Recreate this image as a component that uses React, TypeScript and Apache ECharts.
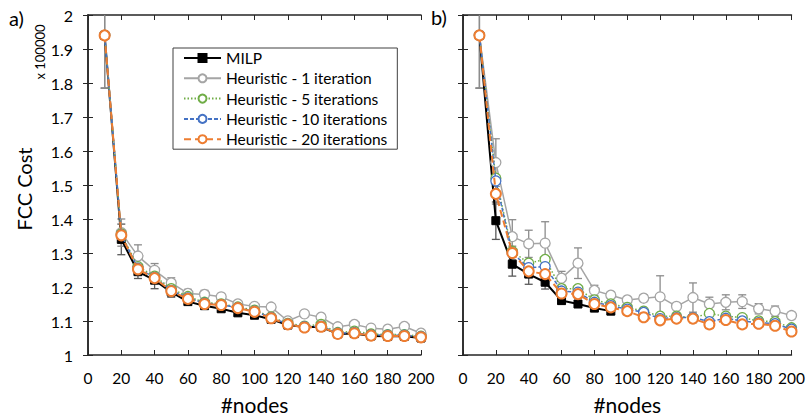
import React, { useEffect, useRef } from "react";
import * as echarts from "echarts";

const NODES = [10, 20, 30, 40, 50, 60, 70, 80, 90, 100, 110, 120, 130, 140, 150, 160, 170, 180, 190, 200];
const NODES_MILP_B = [10, 20, 30, 40, 50, 60, 70, 80, 90];
const Y_TICKS = [1, 1.1, 1.2, 1.3, 1.4, 1.5, 1.6, 1.7, 1.8, 1.9, 2];

// Panel a)
const milpA = [1.94, 1.34, 1.245, 1.22, 1.185, 1.157, 1.145, 1.136, 1.124, 1.117, 1.105, 1.088, 1.082, 1.082, 1.062, 1.063, 1.056, 1.055, 1.055, 1.05];
const h1A = [1.94, 1.36, 1.291, 1.249, 1.212, 1.181, 1.178, 1.171, 1.15, 1.143, 1.141, 1.1, 1.121, 1.111, 1.083, 1.09, 1.079, 1.076, 1.084, 1.064];
const h5A = [1.94, 1.356, 1.26, 1.232, 1.195, 1.172, 1.155, 1.15, 1.141, 1.132, 1.112, 1.093, 1.085, 1.09, 1.066, 1.07, 1.062, 1.06, 1.06, 1.055];
const h10A = [1.94, 1.353, 1.255, 1.228, 1.19, 1.168, 1.152, 1.148, 1.139, 1.129, 1.11, 1.091, 1.083, 1.085, 1.064, 1.066, 1.059, 1.058, 1.058, 1.054];
const h20A = [1.94, 1.352, 1.252, 1.226, 1.188, 1.165, 1.15, 1.147, 1.138, 1.127, 1.108, 1.09, 1.081, 1.083, 1.062, 1.064, 1.057, 1.056, 1.056, 1.052];
const milpErrA = [0.155, 0.045, 0.02, 0.025, 0.015, 0.008, 0.008, 0.008, 0.008, 0.006, 0.006, 0.006, 0.005, 0.005, 0.005, 0.005, 0.005, 0.005, 0.005, 0.005];
const h1ErrA = [0.155, 0.04, 0.033, 0.02, 0.015, 0.012, 0.012, 0.01, 0.01, 0.008, 0.008, 0.007, 0.008, 0.006, 0.006, 0.006, 0.006, 0.006, 0.006, 0.006];

// Panel b)
const milpB = [1.94, 1.395, 1.267, 1.238, 1.214, 1.16, 1.15, 1.138, 1.129];
const h1B = [1.94, 1.566, 1.348, 1.327, 1.329, 1.226, 1.27, 1.19, 1.176, 1.162, 1.167, 1.171, 1.143, 1.169, 1.15, 1.155, 1.157, 1.136, 1.129, 1.116];
const h5B = [1.94, 1.52, 1.305, 1.27, 1.281, 1.195, 1.195, 1.162, 1.15, 1.14, 1.129, 1.114, 1.114, 1.11, 1.122, 1.114, 1.11, 1.1, 1.098, 1.08];
const h10B = [1.94, 1.512, 1.3, 1.257, 1.26, 1.188, 1.185, 1.155, 1.145, 1.135, 1.125, 1.107, 1.11, 1.11, 1.098, 1.108, 1.1, 1.095, 1.092, 1.076];
const h20B = [1.94, 1.474, 1.3, 1.246, 1.238, 1.181, 1.179, 1.15, 1.14, 1.129, 1.111, 1.102, 1.107, 1.107, 1.09, 1.103, 1.09, 1.092, 1.086, 1.069];
const milpErrB = [0.155, 0.055, 0.035, 0.03, 0.02, 0.01, 0.01, 0.01, 0.01];
const h1ErrB = [0.155, 0.07, 0.05, 0.04, 0.063, 0.02, 0.045, 0.015, 0.01, 0.01, 0.01, 0.062, 0.01, 0.043, 0.02, 0.022, 0.02, 0.015, 0.015, 0.01];
const h20ErrB = [0.0, 0.03, 0.02, 0.015, 0.015, 0.012, 0.012, 0.01, 0.01, 0.01, 0.01, 0.012, 0.01, 0.012, 0.012, 0.01, 0.01, 0.01, 0.01, 0.01];

const NAMES = ["MILP", "Heuristic - 1 iteration", "Heuristic - 5 iterations", "Heuristic - 10 iterations", "Heuristic - 20 iterations"];
const FONT = "Lato, 'Noto Sans', sans-serif";

const STYLES = [
  { color: "#000000", width: 2, type: "solid", symbol: "rect", size: 8, fill: "#000000", bw: 1 },
  { color: "#A5A5A5", width: 1.5, type: "solid", symbol: "circle", size: 10, fill: "#ffffff", bw: 1.3 },
  { color: "#70AD47", width: 1.5, type: [1.5, 2], symbol: "circle", size: 10, fill: "#ffffff", bw: 1.3 },
  { color: "#4472C4", width: 1.5, type: [4, 2], symbol: "circle", size: 10, fill: "#ffffff", bw: 1.3 },
  { color: "#ED7D31", width: 2, type: [7, 4], symbol: "circle", size: 10, fill: "#ffffff", bw: 2 },
];

function lineSeries(idx: number, xs: number[], ys: number[], axis: number) {
  const s = STYLES[idx];
  return {
    type: "line",
    name: NAMES[idx],
    xAxisIndex: axis,
    yAxisIndex: axis,
    data: xs.map((x, i) => [x, ys[i]]),
    symbol: s.symbol,
    symbolSize: s.size,
    showAllSymbol: true,
    z: 3 + idx,
    lineStyle: { color: s.color, width: s.width, type: s.type },
    itemStyle: { color: s.fill, borderColor: s.color, borderWidth: s.bw },
    emphasis: { disabled: true },
  };
}

function errSeries(xs: number[], ys: number[], errs: number[], axis: number, color: string) {
  return {
    type: "custom",
    xAxisIndex: axis,
    yAxisIndex: axis,
    z: 2,
    silent: true,
    data: xs.map((x, i) => [x, ys[i] - errs[i], ys[i] + errs[i]]),
    renderItem: (params: any, api: any) => {
      const x = api.value(0);
      const lo = api.value(1);
      const hiRaw = api.value(2);
      if (hiRaw - lo < 0.001) return { type: "group", children: [] };
      const hi = Math.min(hiRaw, 2);
      const pLo = api.coord([x, lo]);
      const pHi = api.coord([x, hi]);
      const style = { stroke: color, lineWidth: 1.3 };
      const children: any[] = [
        { type: "line", shape: { x1: pLo[0], y1: pLo[1], x2: pHi[0], y2: pHi[1] }, style },
        { type: "line", shape: { x1: pLo[0] - 4, y1: pLo[1], x2: pLo[0] + 4, y2: pLo[1] }, style },
      ];
      if (hiRaw <= 2) {
        children.push({ type: "line", shape: { x1: pHi[0] - 4, y1: pHi[1], x2: pHi[0] + 4, y2: pHi[1] }, style });
      }
      return { type: "group", children };
    },
  };
}

const AXIS_COLOR = "#262626";

function xAxes(grid: number) {
  return [
    {
      type: "value", gridIndex: grid, min: 0, max: 200, interval: 20, position: "bottom",
      axisLine: { lineStyle: { color: AXIS_COLOR, width: 1.5 } },
      axisTick: { inside: true, length: 5, lineStyle: { color: AXIS_COLOR } },
      axisLabel: { color: "#000", fontSize: 15.5, fontFamily: FONT, margin: 15 },
      splitLine: { show: false },
      name: "#nodes", nameLocation: "middle", nameGap: 39,
      nameTextStyle: { color: "#000", fontSize: 21, fontFamily: FONT },
    },
    {
      type: "value", gridIndex: grid, min: 0, max: 200, interval: 20, position: "top",
      axisLine: { lineStyle: { color: AXIS_COLOR, width: 1.5 } },
      axisTick: { inside: true, length: 5, lineStyle: { color: AXIS_COLOR } },
      axisLabel: { show: false },
      splitLine: { show: false },
    },
  ];
}

function yAxes(grid: number, labels: boolean) {
  return [
    {
      type: "value", gridIndex: grid, min: 1, max: 2, interval: 0.1, position: "left",
      axisLine: { show: true, lineStyle: { color: AXIS_COLOR, width: 1.5 } },
      axisTick: { show: true, inside: true, length: 5, lineStyle: { color: AXIS_COLOR } },
      axisLabel: {
        show: labels, color: "#000", fontSize: 16, fontFamily: FONT, margin: 15,
        formatter: (v: number) => {
          const t = Y_TICKS.find((k) => Math.abs(k - v) < 1e-6);
          return String(t !== undefined ? t : Math.round(v * 10) / 10);
        },
      },
      splitLine: { show: false },
    },
    {
      type: "value", gridIndex: grid, min: 1, max: 2, interval: 0.1, position: "right",
      axisLine: { show: true, lineStyle: { color: AXIS_COLOR, width: 1.5 } },
      axisTick: { show: true, inside: true, length: 5, lineStyle: { color: AXIS_COLOR } },
      axisLabel: { show: false },
      splitLine: { show: false },
    },
  ];
}

export default function App() {
  const ref = useRef<HTMLDivElement>(null);
  useEffect(() => {
    if (!ref.current) return;
    const chart = echarts.init(ref.current, null, { renderer: "svg" });
    const [xa0, xa1] = xAxes(0);
    const [xb0, xb1] = xAxes(1);
    const [ya0, ya1] = yAxes(0, true);
    const [yb0, yb1] = yAxes(1, false);
    chart.setOption({
      animation: false,
      backgroundColor: "#ffffff",
      grid: [
        { left: 88, top: 15, width: 333, height: 350 },
        { left: 463, top: 15, width: 332, height: 350 },
      ],
      // axis indices: 0 = a bottom/left, 1 = b bottom/left, 2 = a top/right, 3 = b top/right
      xAxis: [xa0, xb0, xa1, xb1],
      yAxis: [ya0, yb0, ya1, yb1],
      legend: {
        data: NAMES,
        orient: "vertical",
        left: 173,
        top: 48,
        itemWidth: 37,
        itemHeight: 10,
        itemGap: 0.3,
        padding: [0, 10, 0, 10],
        borderColor: "#404040",
        borderWidth: 1,
        textStyle: { color: "#000", fontSize: 15.5, fontFamily: FONT, lineHeight: 20 },
        selectedMode: false,
      },
      graphic: [
        { type: "text", left: 9, top: 8, style: { text: "a)", fontSize: 20, fontFamily: FONT, fill: "#000" } },
        { type: "text", left: 431, top: 7, style: { text: "b)", fontSize: 20, fontFamily: FONT, fill: "#000" } },
        {
          type: "text", x: 24, y: 189, rotation: Math.PI / 2,
          style: { text: "FCC Cost", fontSize: 20, fontFamily: FONT, fill: "#000", align: "center", verticalAlign: "middle" },
        },
        {
          type: "text", x: 40, y: 52, rotation: Math.PI / 2,
          style: { text: "x 100000", fontSize: 13, fontFamily: FONT, fill: "#000", align: "center", verticalAlign: "middle" },
        },
      ],
      series: [
        errSeries(NODES, milpA, milpErrA, 0, "#595959"),
        errSeries(NODES, h1A, h1ErrA, 0, "#8c8c8c"),
        errSeries(NODES_MILP_B, milpB, milpErrB, 1, "#595959"),
        errSeries(NODES, h1B, h1ErrB, 1, "#8c8c8c"),
        errSeries(NODES, h20B, h20ErrB, 1, "#7f7f7f"),
        lineSeries(0, NODES, milpA, 0),
        lineSeries(1, NODES, h1A, 0),
        lineSeries(2, NODES, h5A, 0),
        lineSeries(3, NODES, h10A, 0),
        lineSeries(4, NODES, h20A, 0),
        lineSeries(0, NODES_MILP_B, milpB, 1),
        lineSeries(1, NODES, h1B, 1),
        lineSeries(2, NODES, h5B, 1),
        lineSeries(3, NODES, h10B, 1),
        lineSeries(4, NODES, h20B, 1),
      ],
    });
    return () => chart.dispose();
  }, []);
  return <div ref={ref} style={{ position: "fixed", left: 0, top: 0, width: 808, height: 420 }} />;
}
